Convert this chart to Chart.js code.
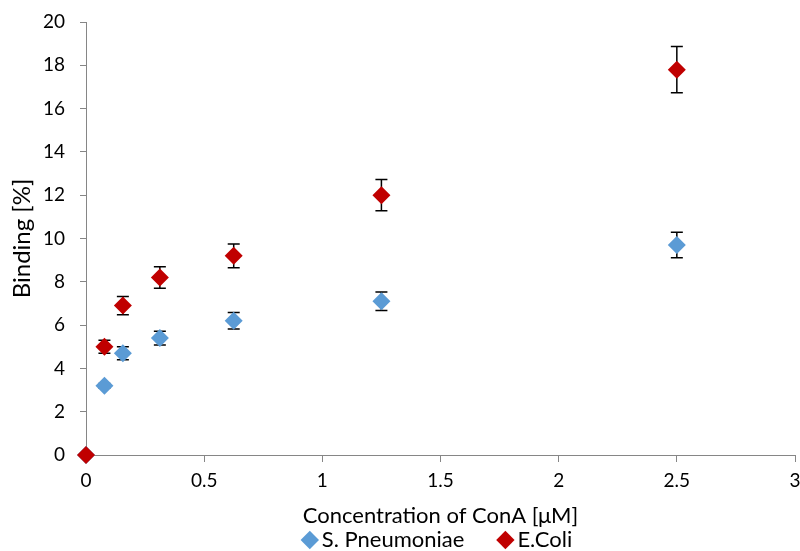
<!DOCTYPE html>
<html>
<head>
<meta charset="utf-8">
<script src="https://cdn.jsdelivr.net/npm/chart.js@4"></script>
<style>
  html, body { margin: 0; padding: 0; background: #fff; }
  #wrap { width: 800px; height: 551px; }
</style>
</head>
<body>
<div id="wrap"><canvas id="chart"></canvas></div>
<script>
// concentration of ConA in µM
const concentrations = [0, 0.078, 0.156, 0.3125, 0.625, 1.25, 2.5];
const pneumoniaeBinding = [0, 3.2, 4.7, 5.4, 6.2, 7.1, 9.7];
const pneumoniaeError = [0, 0.1, 0.3, 0.32, 0.38, 0.43, 0.59];
const ecoliBinding = [0, 5.0, 6.9, 8.2, 9.2, 12.0, 17.8];
const ecoliError = [0, 0.3, 0.42, 0.5, 0.55, 0.72, 1.07];
const xTicks = [0, 0.5, 1, 1.5, 2, 2.5, 3];
const yTicks = [0, 2, 4, 6, 8, 10, 12, 14, 16, 18, 20];

function toPoints(xs, ys) {
    return xs.map((x, i) => ({ x: x, y: ys[i] }));
}

// vertical error bars, drawn under the markers
const errorBars = {
    id: "errorBars",
    beforeDatasetsDraw(chart) {
        const ctx = chart.ctx;
        const yScale = chart.scales.y;
        chart.data.datasets.forEach((ds, i) => {
            const meta = chart.getDatasetMeta(i);
            meta.data.forEach((pt, j) => {
                const err = ds.errors[j];
                if (!err) return;
                const v = ds.data[j].y;
                const top = yScale.getPixelForValue(v + err);
                const bottom = yScale.getPixelForValue(v - err);
                ctx.save();
                ctx.strokeStyle = "#000";
                ctx.lineWidth = 1.5;
                ctx.beginPath();
                ctx.moveTo(pt.x, top);
                ctx.lineTo(pt.x, bottom);
                ctx.moveTo(pt.x - 6, top);
                ctx.lineTo(pt.x + 6, top);
                ctx.moveTo(pt.x - 6, bottom);
                ctx.lineTo(pt.x + 6, bottom);
                ctx.stroke();
                ctx.restore();
            });
        });
    }
};

Chart.defaults.font.family = "Lato, 'Liberation Sans', sans-serif";
Chart.defaults.color = "#000";

new Chart(document.getElementById("chart"), {
    type: "scatter",
    data: {
        datasets: [
            {
                label: "S. Pneumoniae",
                data: toPoints(concentrations, pneumoniaeBinding),
                errors: pneumoniaeError,
                order: 2,
                clip: false,
                pointStyle: "rectRot",
                pointRadius: 9,
                pointHoverRadius: 9,
                backgroundColor: "#5B9BD5",
                borderColor: "#5B9BD5",
                borderWidth: 0
            },
            {
                label: "E.Coli",
                data: toPoints(concentrations, ecoliBinding),
                errors: ecoliError,
                order: 1,
                clip: false,
                pointStyle: "rectRot",
                pointRadius: 9,
                pointHoverRadius: 9,
                backgroundColor: "#C00000",
                borderColor: "#C00000",
                borderWidth: 0
            }
        ]
    },
    options: {
        responsive: true,
        maintainAspectRatio: false,
        animation: false,
        layout: { autoPadding: false, padding: { top: 22, right: 0, bottom: -10, left: 0 } },
        plugins: {
            legend: {
                position: "bottom",
                fullSize: false,
                labels: {
                    usePointStyle: true,
                    pointStyle: "rectRot",
                    boxWidth: 2,
                    boxHeight: 13,
                    padding: 40,
                    font: { size: 22 },
                    sort: (a, b) => a.datasetIndex - b.datasetIndex
                }
            },
            tooltip: { enabled: false }
        },
        scales: {
            x: {
                type: "linear",
                min: 0,
                max: 3,
                afterBuildTicks: s => { s.ticks = xTicks.map(v => ({ value: v })); },
                ticks: { font: { size: 19 }, padding: 7, callback: v => String(v) },
                grid: { drawOnChartArea: false, tickLength: 7, color: "#868686" },
                border: { color: "#868686", width: 1 },
                title: { display: true, text: "Concentration of ConA [μM]", font: { size: 22 }, padding: { top: 0, bottom: -40 } },
                afterFit: s => { s.height = 34; s.paddingLeft = 0; s.paddingRight = 5; }
            },
            y: {
                min: 0,
                max: 20,
                afterBuildTicks: s => { s.ticks = yTicks.map(v => ({ value: v })); },
                ticks: { font: { size: 19 }, padding: 15 },
                grid: { drawOnChartArea: false, tickLength: 6, color: "#868686" },
                border: { color: "#868686", width: 1 },
                title: { display: true, text: "Binding [%]", font: { size: 24 }, padding: { top: 8, bottom: 0 } },
                afterFit: s => { s.width = 86; s.paddingTop = 0; s.paddingBottom = 0; }
            }
        }
    },
    plugins: [errorBars]
});
</script>
</body>
</html>
